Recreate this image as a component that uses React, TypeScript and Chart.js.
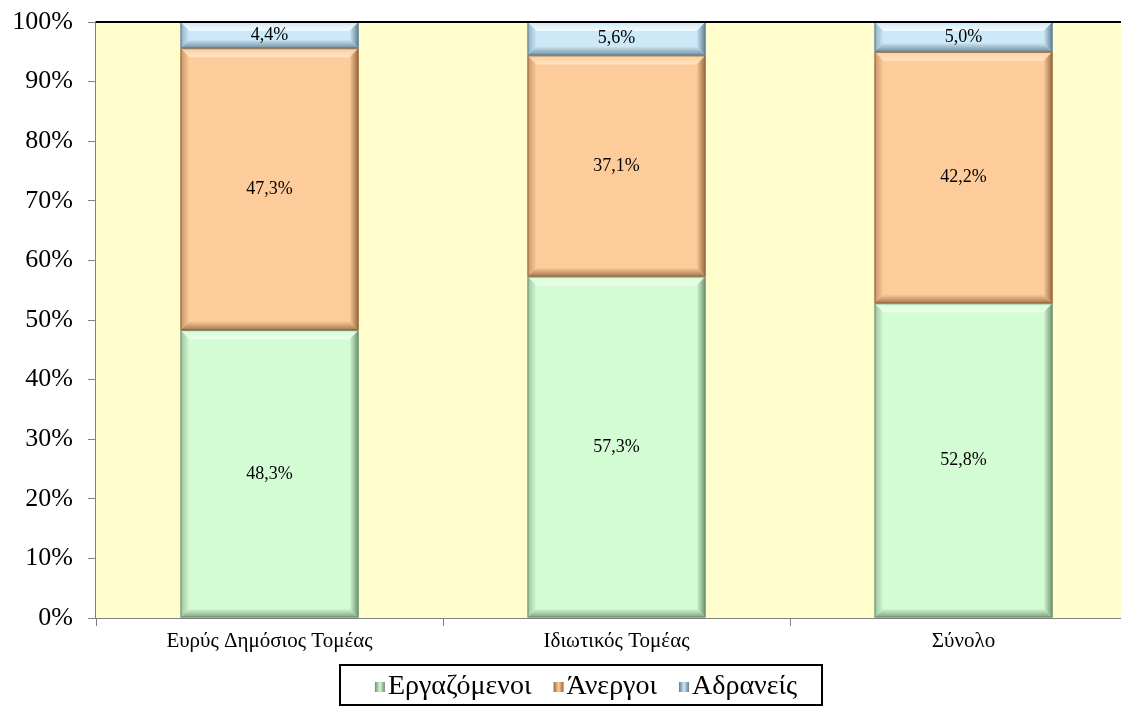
import React, { useEffect, useRef } from "react";
import { Chart, registerables } from "chart.js";

Chart.register(...registerables);

const categories = ["Ευρύς Δημόσιος Τομέας", "Ιδιωτικός Τομέας", "Σύνολο"];
const seriesNames = ["Εργαζόμενοι", "Άνεργοι", "Αδρανείς"];
const employed = [48.3, 57.3, 52.8];
const unemployed = [47.3, 37.1, 42.2];
const inactive = [4.4, 5.6, 5.0];
const yTicks = [0, 10, 20, 30, 40, 50, 60, 70, 80, 90, 100];

const fills = ["#D4FCD4", "#FECC9A", "#CDE8F7"];
const darks = ["#6F9070", "#96683F", "#5F7F93"];
const lights = ["#EEFFEE", "#FFE4C6", "#F4FCFF"];

const SERIF = "'Liberation Serif', 'DejaVu Serif', serif";

const fmt = (v: number) => v.toFixed(1).replace(".", ",") + "%";

const bgPlugin = {
  id: "plotBg",
  beforeDatasetsDraw(chart: any) {
    const { ctx, chartArea: a } = chart;
    ctx.save();
    ctx.fillStyle = "#FFFDCB";
    ctx.fillRect(a.left, a.top, a.right - a.left, a.bottom - a.top);
    ctx.restore();
  },
};

const bevelPlugin = {
  id: "bevel",
  afterDatasetsDraw(chart: any) {
    const { ctx } = chart;
    chart.data.datasets.forEach((ds: any, di: number) => {
      const meta = chart.getDatasetMeta(di);
      meta.data.forEach((el: any) => {
        const w = el.width;
        const x0 = el.x - w / 2;
        const x1 = el.x + w / 2;
        const top = Math.min(el.y, el.base);
        const bot = Math.max(el.y, el.base);
        const h = bot - top;
        const b = Math.min(9, h / 3);
        ctx.save();
        const gt = ctx.createLinearGradient(0, top, 0, top + b);
        gt.addColorStop(0, fills[di]);
        gt.addColorStop(1, lights[di]);
        ctx.fillStyle = gt;
        ctx.beginPath();
        ctx.moveTo(x0, top);
        ctx.lineTo(x1, top);
        ctx.lineTo(x1 - b, top + b);
        ctx.lineTo(x0 + b, top + b);
        ctx.closePath();
        ctx.fill();
        const gr = ctx.createLinearGradient(x1 - b, 0, x1, 0);
        gr.addColorStop(0, fills[di]);
        gr.addColorStop(1, darks[di]);
        ctx.fillStyle = gr;
        ctx.beginPath();
        ctx.moveTo(x1, top);
        ctx.lineTo(x1, bot);
        ctx.lineTo(x1 - b, bot - b);
        ctx.lineTo(x1 - b, top + b);
        ctx.closePath();
        ctx.fill();
        const gl = ctx.createLinearGradient(x0, 0, x0 + b, 0);
        gl.addColorStop(0, darks[di]);
        gl.addColorStop(1, fills[di]);
        ctx.fillStyle = gl;
        ctx.globalAlpha = 0.55;
        ctx.beginPath();
        ctx.moveTo(x0, top);
        ctx.lineTo(x0 + b, top + b);
        ctx.lineTo(x0 + b, bot - b);
        ctx.lineTo(x0, bot);
        ctx.closePath();
        ctx.fill();
        const gb = ctx.createLinearGradient(0, bot - b, 0, bot);
        gb.addColorStop(0, fills[di]);
        gb.addColorStop(1, darks[di]);
        ctx.globalAlpha = 0.85;
        ctx.fillStyle = gb;
        ctx.beginPath();
        ctx.moveTo(x0, bot);
        ctx.lineTo(x1, bot);
        ctx.lineTo(x1 - b, bot - b);
        ctx.lineTo(x0 + b, bot - b);
        ctx.closePath();
        ctx.fill();
        ctx.globalAlpha = 1;
        ctx.strokeStyle = darks[di];
        ctx.lineWidth = 1;
        ctx.strokeRect(x0 + 0.5, top + 0.5, w - 1, h - 1);
        ctx.restore();
      });
    });
  },
};

const labelPlugin = {
  id: "segLabels",
  afterDatasetsDraw(chart: any) {
    const { ctx } = chart;
    ctx.save();
    ctx.font = `18px ${SERIF}`;
    ctx.fillStyle = "#000";
    ctx.textAlign = "center";
    ctx.textBaseline = "middle";
    chart.data.datasets.forEach((ds: any, di: number) => {
      const meta = chart.getDatasetMeta(di);
      meta.data.forEach((el: any, i: number) => {
        ctx.fillText(fmt(ds.data[i]), el.x, (el.y + el.base) / 2);
      });
    });
    ctx.restore();
  },
};

const framePlugin = {
  id: "frame",
  afterDraw(chart: any) {
    const { ctx, chartArea: a } = chart;
    ctx.save();
    ctx.strokeStyle = "#000";
    ctx.lineWidth = 2;
    ctx.beginPath();
    ctx.moveTo(a.left, a.top);
    ctx.lineTo(a.right, a.top);
    ctx.stroke();
    ctx.restore();
  },
};

const legendPlugin = {
  id: "boxLegend",
  afterDraw(chart: any) {
    const { ctx } = chart;
    const top = chart.chartArea.bottom + 47;
    const bottom = chart.height - 1;
    const cy = (top + bottom) / 2 + 2;
    ctx.save();
    ctx.font = `28px ${SERIF}`;
    const mark = 10;
    const gapMark = 3;
    const gapItem = 22;
    const widths = chart.data.datasets.map((d: any) => ctx.measureText(d.label).width);
    const total = widths.reduce((s: number, w: number) => s + mark + gapMark + w, 0) + gapItem * (widths.length - 1);
    const cx = 586;
    ctx.strokeStyle = "#000";
    ctx.lineWidth = 2;
    ctx.strokeRect(340, top, 482, bottom - top);
    let x = cx - total / 2;
    chart.data.datasets.forEach((d: any, i: number) => {
      const g = ctx.createLinearGradient(x, 0, x + mark, 0);
      g.addColorStop(0, darks[i]);
      g.addColorStop(0.5, fills[i]);
      g.addColorStop(1, darks[i]);
      ctx.fillStyle = g;
      ctx.fillRect(x, cy - mark / 2, mark, mark);
      ctx.fillStyle = "#000";
      ctx.textBaseline = "middle";
      ctx.textAlign = "left";
      ctx.fillText(d.label, x + mark + gapMark, cy);
      x += mark + gapMark + widths[i] + gapItem;
    });
    ctx.restore();
  },
};

export default function App() {
  const ref = useRef<HTMLCanvasElement>(null);
  useEffect(() => {
    if (!ref.current) return;
    const seriesData = [employed, unemployed, inactive];
    const chart = new Chart(ref.current, {
      type: "bar",
      data: {
        labels: categories,
        datasets: seriesNames.map((name, i) => ({
          label: name,
          data: seriesData[i],
          backgroundColor: fills[i],
          borderWidth: 0,
          categoryPercentage: 1,
          barPercentage: 0.513,
        })),
      },
      options: {
        animation: false,
        responsive: false,
        maintainAspectRatio: false,
        layout: { padding: { top: 22, right: 3, bottom: 41, left: 0 } },
        plugins: { legend: { display: false }, tooltip: { enabled: false } },
        scales: {
          x: {
            stacked: true,
            grid: { display: true, drawOnChartArea: false, drawTicks: true, tickLength: 8, color: "#808080", offset: true },
            border: { display: true, color: "#808080", width: 2 },
            ticks: { color: "#000", font: { family: SERIF, size: 21 }, padding: 3, maxRotation: 0 },
            afterFit: (s: any) => { s.height = 47; s.paddingLeft = 0; s.paddingRight = 0; },
          },
          y: {
            stacked: true,
            min: 0,
            max: 100,
            afterBuildTicks: (s: any) => { s.ticks = yTicks.map((v) => ({ value: v })); },
            grid: { display: true, drawOnChartArea: false, drawTicks: true, tickLength: 8, color: "#808080" },
            border: { display: true, color: "#808080", width: 2 },
            ticks: { color: "#000", font: { family: SERIF, size: 26 }, padding: 15, callback: (v: any) => v + "%" },
            afterFit: (s: any) => { s.width = 96; s.paddingTop = 0; s.paddingBottom = 0; },
          },
        },
      },
      plugins: [bgPlugin, bevelPlugin, labelPlugin, framePlugin, legendPlugin],
    });
    return () => chart.destroy();
  }, []);
  return (
    <div style={{ position: "fixed", left: 0, top: 0, width: 1121, height: 706, overflow: "hidden", background: "#fff" }}>
      <canvas ref={ref} width={1140} height={706} style={{ width: 1140, height: 706, display: "block" }} />
    </div>
  );
}
